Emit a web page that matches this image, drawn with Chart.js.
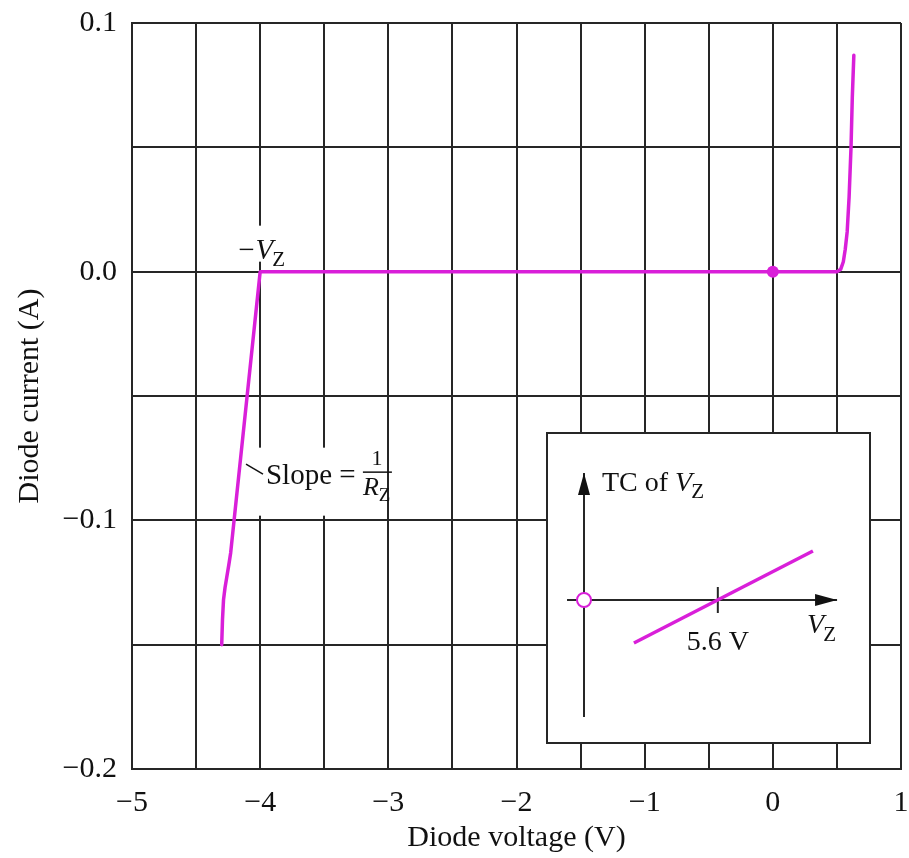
<!DOCTYPE html>
<html>
<head>
<meta charset="utf-8">
<script src="https://cdn.jsdelivr.net/npm/chart.js@4.4.1/dist/chart.umd.min.js"></script>
<style>
  body { margin: 0; background: #fff; }
  #wrap { position: relative; width: 909px; height: 858px; }
  #main { position: absolute; left: 0; top: 0; width: 909px; height: 858px; }
  #inset { position: absolute; left: 546px; top: 432px; width: 325px; height: 312px; }
</style>
</head>
<body>
<div id="wrap">
  <canvas id="main" width="909" height="858"></canvas>
  <canvas id="inset" width="325" height="312"></canvas>
</div>
<script>
// diode I-V curve (volts, amps)
const curveV = [-4.30, -4.294, -4.286, -4.274, -4.261, -4.245, -4.23, -4.0, 0.50, 0.53, 0.55, 0.565, 0.58, 0.595, 0.61, 0.62, 0.632];
const curveI = [-0.15, -0.14, -0.132, -0.127, -0.123, -0.118, -0.113, 0.0, 0.0, 0.001, 0.004, 0.009, 0.016, 0.03, 0.05, 0.07, 0.087];
const qPointV = [0];
const qPointI = [0];

const xLabelValues = [-5, -4, -3, -2, -1, 0, 1];
const yLabelValues = [0.1, 0.0, -0.1, -0.2];
const yLabelText = ['0.1', '0.0', '\u22120.1', '\u22120.2'];

// inset: TC of Vz against Vz (arbitrary units, origin at 0,0)
const tcVz = [2.09, 9.58];
const tcVal = [-0.86, 0.98];
const insetTickVz = 5.6;
const insetXAxis = [-0.71, 10.59];
const insetYAxis = [-2.34, 2.54];

const serif = '"Liberation Serif", "Times New Roman", serif';
const ink = '#262626';
const magenta = '#d91fd9';

function drawRich(ctx, parts, x, y) {
    parts.forEach(p => {
        ctx.font = p.font;
        ctx.fillText(p.t, x, y + (p.dy || 0));
        x += ctx.measureText(p.t).width + (p.gap || 0);
    });
    return x;
}

function noScalePadding(scale) {
    scale.paddingLeft = 0;
    scale.paddingRight = 0;
    scale.paddingTop = 0;
    scale.paddingBottom = 0;
}

const annotations = {
    id: 'annotations',
    beforeDatasetsDraw(chart) {
        const {ctx, scales: {x, y}} = chart;
        const vx = x.getPixelForValue(-4), vy = y.getPixelForValue(0);
        ctx.save();
        ctx.fillStyle = '#fff';
        ctx.fillRect(vx - 24, vy - 46, 56, 36);
        ctx.fillRect(vx - 4, vy + 176, 126, 68);
        ctx.restore();
    },
    afterDatasetsDraw(chart) {
        const {ctx, scales: {x, y}} = chart;
        const vx = x.getPixelForValue(-4), vy = y.getPixelForValue(0);
        ctx.save();
        ctx.fillStyle = '#111';
        ctx.strokeStyle = '#111';
        ctx.textBaseline = 'alphabetic';
        // -Vz label
        drawRich(ctx, [
            {t: '\u2212', font: '29px ' + serif, gap: 1},
            {t: 'V', font: 'italic 29px ' + serif, gap: -1},
            {t: 'Z', font: '21px ' + serif, dy: 7}
        ], vx - 22, vy - 13);

        // slope leader + label
        const lx = x.getPixelForValue(-4.134), ly = y.getPixelForValue(-0.077);
        ctx.lineWidth = 1.5;
        ctx.beginPath();
        ctx.moveTo(lx + 3, ly + 1);
        ctx.lineTo(lx + 20, ly + 11);
        ctx.stroke();
        const endX = drawRich(ctx, [{t: 'Slope = ', font: '29px ' + serif}], lx + 23, ly + 21);
        const fx = endX;
        ctx.font = '22px ' + serif;
        ctx.textAlign = 'center';
        ctx.fillText('1', fx + 14, ly + 2);
        ctx.textAlign = 'left';
        ctx.lineWidth = 1.5;
        ctx.beginPath();
        ctx.moveTo(fx, ly + 9);
        ctx.lineTo(fx + 29, ly + 9);
        ctx.stroke();
        drawRich(ctx, [
            {t: 'R', font: 'italic 26px ' + serif},
            {t: 'Z', font: '19px ' + serif, dy: 6}
        ], fx, ly + 32);
        ctx.restore();
    }
};

new Chart(document.getElementById('main'), {
    type: 'scatter',
    data: {
        datasets: [
            {
                data: qPointV.map((v, i) => ({x: v, y: qPointI[i]})),
                pointRadius: 6,
                pointBackgroundColor: magenta,
                pointBorderWidth: 0,
                showLine: false,
                order: 0
            },
            {
                data: curveV.map((v, i) => ({x: v, y: curveI[i]})),
                borderColor: magenta,
                borderWidth: 3.5,
                pointRadius: 0,
                showLine: true,
                tension: 0,
                borderJoinStyle: 'round',
                borderCapStyle: 'round',
                order: 1
            }
        ]
    },
    options: {
        responsive: false,
        animation: false,
        layout: {autoPadding: false, padding: {top: 23, right: 8, left: 0, bottom: 0}},
        plugins: {legend: {display: false}, tooltip: {enabled: false}},
        scales: {
            x: {
                type: 'linear',
                min: -5,
                max: 1,
                afterFit(scale) { scale.height = 89; noScalePadding(scale); },
                ticks: {
                    stepSize: 0.5,
                    autoSkip: false,
                    maxRotation: 0,
                    padding: 16,
                    color: '#111',
                    font: {family: serif, size: 30},
                    callback(v) {
                        const hit = xLabelValues.find(l => Math.abs(l - v) < 1e-6);
                        if (hit === undefined) return '';
                        return hit < 0 ? '\u2212' + Math.abs(hit) : String(hit);
                    }
                },
                grid: {color: ink, lineWidth: 2, drawTicks: false},
                border: {color: ink, width: 2},
                title: {
                    display: true,
                    text: 'Diode voltage (V)',
                    color: '#111',
                    font: {family: serif, size: 30},
                    padding: {top: 0, bottom: 2}
                }
            },
            y: {
                min: -0.2,
                max: 0.1,
                afterFit(scale) { scale.width = 132; noScalePadding(scale); },
                ticks: {
                    stepSize: 0.05,
                    autoSkip: false,
                    padding: 15,
                    color: '#111',
                    font: {family: serif, size: 30},
                    callback(v) {
                        const i = yLabelValues.findIndex(l => Math.abs(l - v) < 1e-6);
                        return i < 0 ? '' : yLabelText[i];
                    }
                },
                grid: {color: ink, lineWidth: 2, drawTicks: false},
                border: {color: ink, width: 2},
                title: {
                    display: true,
                    text: 'Diode current (A)',
                    color: '#111',
                    font: {family: serif, size: 30},
                    padding: {top: 12, bottom: 0}
                }
            }
        }
    },
    plugins: [annotations]
});

// inset chart
const insetDecor = {
    id: 'insetDecor',
    beforeDraw(chart) {
        const {ctx, width, height} = chart;
        ctx.save();
        ctx.fillStyle = '#fff';
        ctx.fillRect(0, 0, width, height);
        ctx.strokeStyle = ink;
        ctx.lineWidth = 2;
        ctx.strokeRect(1, 1, width - 2, height - 2);
        ctx.restore();
    },
    afterDatasetsDraw(chart) {
        const {ctx, scales: {x, y}} = chart;
        const ox = x.getPixelForValue(0), oy = y.getPixelForValue(0);
        const tipX = x.getPixelForValue(insetXAxis[1]);
        const tipY = y.getPixelForValue(insetYAxis[1]);
        ctx.save();
        ctx.fillStyle = '#111';
        ctx.beginPath();
        ctx.moveTo(tipX, oy);
        ctx.lineTo(tipX - 22, oy - 6);
        ctx.lineTo(tipX - 22, oy + 6);
        ctx.closePath();
        ctx.fill();
        ctx.beginPath();
        ctx.moveTo(ox, tipY);
        ctx.lineTo(ox - 6, tipY + 22);
        ctx.lineTo(ox + 6, tipY + 22);
        ctx.closePath();
        ctx.fill();

        ctx.textBaseline = 'alphabetic';
        drawRich(ctx, [
            {t: 'TC of ', font: '28px ' + serif},
            {t: 'V', font: 'italic 28px ' + serif, gap: -1},
            {t: 'Z', font: '21px ' + serif, dy: 7}
        ], ox + 18, tipY + 18);

        ctx.font = '28px ' + serif;
        ctx.textAlign = 'center';
        ctx.fillText('5.6 V', x.getPixelForValue(insetTickVz), oy + 50);
        ctx.textAlign = 'left';
        drawRich(ctx, [
            {t: 'V', font: 'italic 28px ' + serif, gap: -1},
            {t: 'Z', font: '21px ' + serif, dy: 8}
        ], tipX - 30, oy + 33);
        ctx.restore();
    }
};

new Chart(document.getElementById('inset'), {
    type: 'scatter',
    data: {
        datasets: [
            {
                data: [{x: 0, y: 0}],
                pointRadius: 7,
                pointBackgroundColor: '#fff',
                pointBorderColor: magenta,
                pointBorderWidth: 2,
                showLine: false,
                order: 0
            },
            {
                data: tcVz.map((v, i) => ({x: v, y: tcVal[i]})),
                borderColor: magenta,
                borderWidth: 3.5,
                pointRadius: 0,
                showLine: true,
                order: 1
            },
            {
                data: [{x: insetTickVz, y: -0.26}, {x: insetTickVz, y: 0.26}],
                borderColor: ink,
                borderWidth: 2,
                pointRadius: 0,
                showLine: true,
                order: 2
            },
            {
                data: insetXAxis.map(v => ({x: v, y: 0})),
                borderColor: ink,
                borderWidth: 2,
                pointRadius: 0,
                showLine: true,
                order: 3
            },
            {
                data: insetYAxis.map(v => ({x: 0, y: v})),
                borderColor: ink,
                borderWidth: 2,
                pointRadius: 0,
                showLine: true,
                order: 3
            }
        ]
    },
    options: {
        responsive: false,
        animation: false,
        layout: {autoPadding: false, padding: 0},
        plugins: {legend: {display: false}, tooltip: {enabled: false}},
        scales: {
            x: {type: 'linear', min: -1.59, max: 12.01, display: false},
            y: {min: -2.88, max: 3.36, display: false}
        }
    },
    plugins: [insetDecor]
});
</script>
</body>
</html>
